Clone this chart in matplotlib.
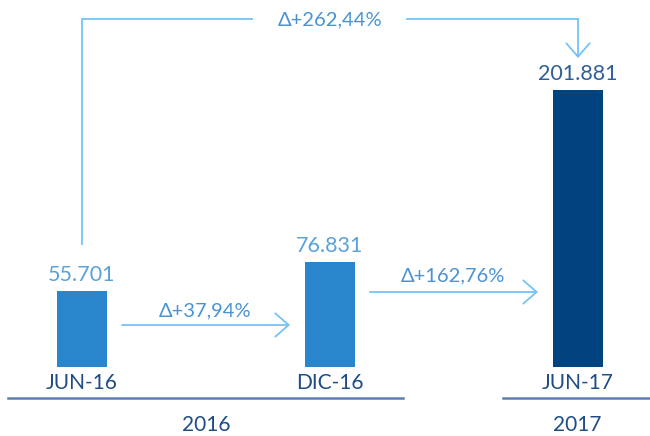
import matplotlib
matplotlib.use("Agg")
import matplotlib.pyplot as plt
from matplotlib.patches import FancyArrowPatch

plt.rcParams['font.family'] = ['Lato', 'DejaVu Sans']

categories = ["JUN-16", "DIC-16", "JUN-17"]
values = [55701, 76831, 201881]
value_labels = ["55.701", "76.831", "201.881"]
bar_colors = ["#2a86cc", "#2a86cc", "#00437f"]
value_colors = ["#5aa2da", "#5aa2da", "#2f5f97"]
deltas = ["Δ+37,94%", "Δ+162,76%"]
total_delta = "Δ+262,44%"
years = ["2016", "2017"]

W, H = 650, 436
fig = plt.figure(figsize=(W / 100, H / 100), dpi=100)
ax = fig.add_axes([0, 0, 1, 1])
ax.axis("off")

# scale: category spacing 248 px, first centre at 82 px; baseline 69 px from bottom
step_px = 248.0
x0_px = 82.0
base_px = 69.0
ppu = 277.0 / 201881.0  # pixels per unit value
ax.set_xlim(-x0_px / step_px, (W - x0_px) / step_px)
ax.set_ylim(-base_px / ppu, (H - base_px) / ppu)

def P(xp, yp_top):
    """pixel (from top-left) -> data coords"""
    return ((xp - x0_px) / step_px, (H - yp_top - base_px) / ppu)

xs = list(range(len(categories)))
ax.bar(xs, values, width=50 / step_px, color=bar_colors, zorder=3)

for x, v, lab, c in zip(xs, values, value_labels, value_colors):
    ax.annotate(lab, (x, v), xytext=(0, 16), textcoords="offset pixels",
                ha="center", va="center", fontsize=15.5, color=c)
    ax.annotate(categories[x], (x, 0), xytext=(0, -16), textcoords="offset pixels",
                ha="center", va="center", fontsize=15, color="#1f4c84")

arrow_c = "#74c2f8"
def arrow(p1, p2):
    a = FancyArrowPatch(p1, p2, arrowstyle="->,head_length=0.8,head_width=0.7",
                        color=arrow_c, lw=1.3, mutation_scale=12, shrinkA=0, shrinkB=0)
    ax.add_patch(a)

delta_c = "#4a93d3"
# step arrows
arrow(P(122, 325), P(290, 325))
ax.text(*P(205, 311), deltas[0], ha="center", va="center", fontsize=14.5, color=delta_c)
arrow(P(370, 292), P(538, 292))
ax.text(*P(453, 276), deltas[1], ha="center", va="center", fontsize=14.5, color=delta_c)

# total arrow
xa, ya = zip(P(82, 245), P(82, 19.5), P(253, 19.5))
ax.plot(xa, ya, color=arrow_c, lw=1.3, solid_capstyle="butt")
xb, yb = zip(P(407, 19.5), P(578, 19.5))
ax.plot(xb, yb, color=arrow_c, lw=1.3)
arrow(P(578, 19.5), P(578, 58))
ax.text(*P(330, 20), total_delta, ha="center", va="center", fontsize=14.5, color=delta_c)

# year axis lines
ax.plot(*zip(P(8, 397.5), P(403, 397.5)), color="#5a80b3", lw=1.8)
ax.plot(*zip(P(503, 397.5), P(652, 397.5)), color="#5a80b3", lw=1.8)
ax.text(*P(206, 425), years[0], ha="center", va="center", fontsize=15, color="#1f4c84")
ax.text(*P(577, 425), years[1], ha="center", va="center", fontsize=15, color="#1f4c84")

fig.savefig("out.png", dpi=100)
